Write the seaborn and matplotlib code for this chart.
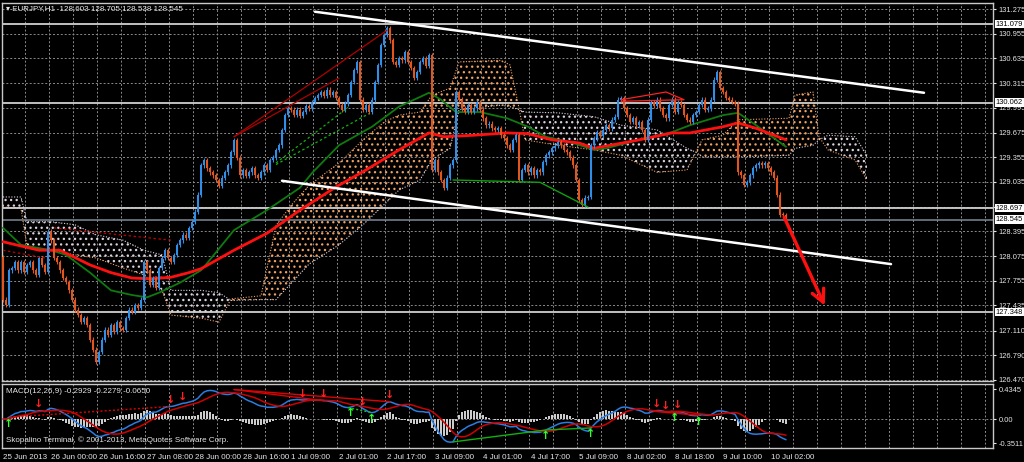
import numpy as np
import pandas as pd
import matplotlib.pyplot as plt
import seaborn as sns

# hourly closes, EURJPY H1, 25 Jun 2013 08:00 .. 10 Jul 2013
closes = [
    127.51, 127.44, 127.89, 127.92, 128.00, 127.89, 128.00, 127.87, 127.96, 128.00,
    127.89, 127.83, 128.05, 127.96, 127.87, 128.39, 128.28, 128.05, 128.00, 127.89,
    127.79, 127.74, 127.63, 127.51, 127.38, 127.31, 127.22, 127.27, 127.18, 126.99,
    126.86, 126.70, 126.83, 126.99, 127.12, 127.05, 127.18, 127.09, 127.22, 127.14,
    127.12, 127.27, 127.38, 127.35, 127.44, 127.40, 127.51, 128.00, 127.89, 127.70,
    127.79, 127.66, 127.92, 128.05, 128.15, 128.05, 128.00, 128.09, 128.22, 128.28,
    128.35, 128.31, 128.44, 128.52, 128.65, 128.87, 129.25, 129.32, 129.21, 129.16,
    129.12, 129.06, 128.98, 129.09, 129.16, 129.25, 129.42, 129.58, 129.35, 129.12,
    129.19, 129.11, 129.16, 129.21, 129.12, 129.09, 129.16, 129.25, 129.19, 129.32,
    129.35, 129.45, 129.51, 129.71, 129.90, 129.99, 129.97, 129.90, 129.97, 129.89,
    129.94, 130.02, 129.99, 130.07, 130.12, 130.16, 130.20, 130.15, 130.23, 130.16,
    130.20, 130.12, 130.03, 129.97, 130.05, 130.16, 130.33, 130.48, 130.59, 130.10,
    129.97, 130.03, 129.94, 130.10, 130.33, 130.55, 130.81, 130.94, 131.03, 130.87,
    130.59, 130.55, 130.64, 130.61, 130.72, 130.59, 130.51, 130.38, 130.46, 130.59,
    130.64, 130.54, 130.68, 129.19, 129.32, 129.16, 129.06, 128.96, 129.09, 129.25,
    129.32, 130.20, 130.10, 129.99, 129.94, 130.03, 129.94, 129.99, 130.07, 129.97,
    129.86, 129.77, 129.79, 129.73, 129.71, 129.73, 129.64, 129.60, 129.51, 129.45,
    129.58, 129.64, 129.06, 129.19, 129.25, 129.16, 129.21, 129.12, 129.19, 129.16,
    129.29, 129.38, 129.42, 129.47, 129.50, 129.55, 129.51, 129.45, 129.42, 129.35,
    129.25, 129.06, 128.80, 128.74, 128.83, 128.84, 129.51, 129.60, 129.68, 129.63,
    129.71, 129.77, 129.73, 129.84, 129.88, 130.10, 130.12, 129.99, 129.90, 129.81,
    129.86, 129.77, 129.81, 129.71, 129.58, 129.84, 130.07, 130.02, 130.10, 129.99,
    129.90, 129.86, 130.03, 130.10, 129.94, 130.06, 130.03, 129.90, 129.84, 129.81,
    129.90, 129.94, 130.03, 130.10, 129.97, 129.99, 130.10, 130.36, 130.46, 130.25,
    130.20, 130.12, 130.10, 130.07, 130.05, 129.16, 129.12, 129.00, 129.03, 129.12,
    129.21, 129.25, 129.28, 129.25, 129.28, 129.21, 129.16, 129.09, 128.87, 128.61,
    128.603, 128.545,
]
first_open = 128.06

# moving averages (bar index, price)
green_bars = [0, 6, 16, 21, 29, 36, 43, 48, 52, 59, 66, 68, 77, 88, 99, 103, 112, 123,
              132, 142, 146, 151, 159, 168, 175, 181, 190, 197, 201, 212, 223, 229, 240, 245, 251, 261]
green_ma = [128.44, 128.22, 128.15, 128.09, 127.86, 127.63, 127.57, 127.54, 127.60, 127.73,
            127.89, 127.98, 128.41, 128.67, 128.96, 129.15, 129.51, 129.75, 130.01, 130.19,
            130.10, 129.94, 129.94, 129.86, 129.75, 129.62, 129.54, 129.45, 129.47, 129.58,
            129.68, 129.77, 129.90, 129.93, 129.77, 129.49]
red_bars = [0, 12, 19, 29, 36, 43, 49, 56, 62, 66, 77, 88, 99, 111, 121, 132, 142, 147,
            157, 168, 175, 183, 192, 197, 201, 212, 223, 229, 240, 245, 251, 261]
red_ma = [128.26, 128.15, 128.15, 127.96, 127.86, 127.79, 127.78, 127.80, 127.86, 127.91,
          128.15, 128.37, 128.67, 128.97, 129.19, 129.45, 129.67, 129.62, 129.64, 129.67,
          129.66, 129.58, 129.54, 129.47, 129.50, 129.58, 129.67, 129.67, 129.75, 129.80,
          129.73, 129.58]

# ichimoku cloud spans (shifted 26 bars ahead)
cloud_bars = [0, 6, 8, 16, 24, 31, 40, 47, 53, 56, 66, 72, 76, 86, 91, 96, 102, 112, 120,
              127, 132, 139, 143, 149, 152, 166, 169, 172, 174, 185, 197, 206, 218, 228, 231,
              233, 240, 245, 262, 264, 270, 272, 275, 284, 288]
span_a = [128.71, 128.69, 128.20, 128.15, 128.09, 128.05, 127.92, 127.83, 127.63, 127.31,
          127.27, 127.22, 127.52, 127.56, 128.47, 128.73, 128.99, 129.28, 129.58, 129.81,
          129.90, 129.94, 130.16, 130.25, 130.59, 130.61, 130.55, 129.99, 129.58, 129.51,
          129.45, 129.38, 129.16, 129.19, 129.42, 129.58, 129.64, 129.84, 129.86, 130.16,
          130.20, 129.62, 129.45, 129.32, 129.06]
span_b = [128.84, 128.84, 128.52, 128.52, 128.48, 128.35, 128.28, 128.15, 128.09, 127.63,
          127.63, 127.60, 127.50, 127.51, 127.51, 127.72, 127.97, 128.22, 128.48, 128.74,
          128.93, 129.06, 129.32, 129.47, 129.97, 130.03, 130.01, 129.97, 129.94, 129.93,
          129.88, 129.77, 129.71, 129.47, 129.42, 129.36, 129.36, 129.36, 129.38, 129.47,
          129.51, 129.58, 129.64, 129.62, 129.38]

levels = [131.079, 130.062, 128.697, 127.348]
bid = 128.545

price_ticks = [131.275, 130.955, 130.635, 130.315, 129.995, 129.675, 129.355, 129.035,
               128.715, 128.395, 128.075, 127.755, 127.435, 127.110, 126.790, 126.470]
time_labels = ['25 Jun 2013', '26 Jun 00:00', '26 Jun 16:00', '27 Jun 08:00', '28 Jun 00:00',
               '28 Jun 16:00', '1 Jul 09:00', '2 Jul 01:00', '2 Jul 17:00', '3 Jul 09:00',
               '4 Jul 01:00', '4 Jul 17:00', '5 Jul 09:00', '8 Jul 02:00', '8 Jul 18:00',
               '9 Jul 10:00', '10 Jul 02:00']

# ---- data frame
df = pd.DataFrame({'close': closes})
df['open'] = df['close'].shift(1).fillna(first_open)
df['bar'] = np.arange(len(df))
df['top'] = df[['open', 'close']].max(axis=1)
df['bot'] = df[['open', 'close']].min(axis=1)
df['up'] = df['close'] >= df['open']

ema12 = df['close'].ewm(span=12, adjust=False).mean()
ema26 = df['close'].ewm(span=26, adjust=False).mean()
df['macd'] = ema12 - ema26
df['signal'] = df['macd'].rolling(9, min_periods=1).mean()
df['osma'] = df['macd'] - df['signal']

# ---- style
sns.set_style('dark', {'axes.facecolor': 'black', 'figure.facecolor': 'black'})
plt.rcParams['font.family'] = ['Liberation Sans', 'DejaVu Sans']
plt.rcParams['hatch.linewidth'] = 0.9

BULL = '#2f8fe8'
BEAR = '#e2561e'
GRID = '#8a8a8a'
TXT = '#e6e6e6'
FS = 5.4

fig = plt.figure(figsize=(10.24, 4.62), dpi=100, facecolor='black')
ax = fig.add_axes([2 / 1024, 81 / 462, 991 / 1024, 378 / 462])
ax2 = fig.add_axes([2 / 1024, 14 / 462, 991 / 1024, 64 / 462], sharex=ax)

xmin, xmax = -1 / 3, -1 / 3 + 991 / 3

for a in (ax, ax2):
    a.set_facecolor('black')
    for s in a.spines.values():
        s.set_color('#c8c8c8')
        s.set_linewidth(1)
    for b in range(0, 336, 8):
        a.axvline(b - 0.6, color=GRID, lw=0.7, ls=(0, (2, 2)), zorder=0)

# ---- main panel
for p in price_ticks:
    ax.axhline(p, color=GRID, lw=0.7, ls=(0, (2, 2)), zorder=0)

cb = np.array(cloud_bars)
sa = np.array(span_a)
sb = np.array(span_b)
ax.fill_between(cb, sa, sb, where=sa >= sb, interpolate=True, facecolor='none',
                edgecolor='#f0a060', hatch='...', linewidth=0, zorder=1)
ax.fill_between(cb, sa, sb, where=sa < sb, interpolate=True, facecolor='none',
                edgecolor='#ddd0dd', hatch='...', linewidth=0, zorder=1)
ax.plot(cb, sa, color='#f0a060', lw=0.8, ls=(0, (1, 1.5)), zorder=1)
ax.plot(cb, sb, color='#ddd0dd', lw=0.8, ls=(0, (1, 1.5)), zorder=1)

sns.lineplot(x=green_bars, y=green_ma, ax=ax, color='#0f7a0f', lw=1.3, zorder=3)
sns.lineplot(x=red_bars, y=red_ma, ax=ax, color='#ff1010', lw=2, zorder=3)

# candles
colors = np.where(df['up'], BULL, BEAR)
ax.vlines(df['bar'], df['bot'] - 0.03, df['top'] + 0.03, colors=colors, lw=0.8, zorder=4)
ax.bar(df['bar'], (df['top'] - df['bot']).clip(lower=0.012), bottom=df['bot'],
       width=0.75, color=colors, linewidth=0, zorder=4)

# horizontal levels
for lv in levels:
    ax.axhline(lv, color='#d0d0d0', lw=1.3, zorder=2)
ax.axhline(bid, color='#7d8a99', lw=1.1, zorder=2)

# channel and trend lines
ax.plot([104, 307], [131.24, 130.19], color='white', lw=1.8, zorder=5)
ax.plot([93, 296], [129.05, 127.97], color='white', lw=1.8, zorder=5)
ax.plot([77, 128], [129.62, 131.00], color='#b00000', lw=0.9, zorder=5)
ax.plot([77, 112], [129.62, 130.38], color='#b00000', lw=0.9, zorder=5)
ax.plot([206, 221, 227, 206], [130.10, 130.20, 130.10, 130.08], color='#ff2020', lw=0.9, zorder=5)
ax.plot([17, 56], [128.44, 128.28], color='#c00000', lw=0.9, ls=(0, (2, 2)), zorder=5)
ax.plot([0, 14], [128.15, 128.05], color='#c00000', lw=0.9, ls=(0, (2, 2)), zorder=5)
ax.plot([91, 115], [129.28, 130.00], color='#10b010', lw=0.9, ls=(0, (2, 2)), zorder=5)
ax.plot([91, 122], [129.26, 129.92], color='#10b010', lw=0.9, ls=(0, (2, 2)), zorder=5)
ax.plot([150, 179, 195], [129.06, 129.03, 128.71], color='#10a010', lw=1, zorder=5)
ax.annotate('', xy=(274.3, 127.40), xytext=(260, 128.61),
            arrowprops=dict(arrowstyle='->,head_length=0.9,head_width=0.45', color='#ff1010', lw=2.4),
            zorder=6)

ax.set_xlim(xmin, xmax)
ax.set_ylim(126.456, 131.353)
ax.yaxis.tick_right()
ax.set_yticks(price_ticks)
ax.set_yticklabels(['' if p == 128.715 else f'{p:.3f}' for p in price_ticks])
ax.tick_params(axis='y', colors=TXT, labelsize=FS, length=2.5, width=0.8, pad=1.5)
ax.tick_params(axis='x', bottom=False, labelbottom=False)
ax.set_xlabel('')
ax.set_ylabel('')

for lv in levels + [bid]:
    ax.annotate(f'{lv:.3f}', xy=(1.0, lv), xycoords=('axes fraction', 'data'),
                xytext=(2.0, 0), textcoords='offset points', ha='left', va='center',
                fontsize=FS, color='black', annotation_clip=False, zorder=10,
                bbox=dict(boxstyle='square,pad=0.1', fc='white', ec='none'))

fig.text(6 / 1024, 1 - 9 / 462, '\u25be EURJPY,H1  128.603 128.705 128.538 128.545',
         color=TXT, fontsize=FS + 0.4, va='center', ha='left')

# ---- MACD panel
ax2.axhline(0, color=GRID, lw=0.7, ls=(0, (2, 2)), zorder=0)
ax2.bar(df['bar'], df['osma'], width=0.6, color='#cccccc', linewidth=0, zorder=2)
sns.lineplot(x=df['bar'], y=df['macd'], ax=ax2, color='#2a7de1', lw=1.1, zorder=3)
sns.lineplot(x=df['bar'], y=df['signal'], ax=ax2, color='#d00000', lw=1.1, zorder=3)

m = df['macd']
red_arrows = [12, 56, 60, 100, 107, 120, 129, 218, 221, 225]
green_arrows = [2, 116, 123, 181, 196, 224, 232]
ax2.plot([2, 56], [m[2], m[56]], color='#e00000', lw=1, ls=(0, (1.5, 1.5)), zorder=4)
ax2.plot([77, 129], [m[77] + 0.05, m[129]], color='#e00000', lw=1, zorder=4)
ax2.plot([77, 107], [m[77] + 0.05, m[107]], color='#e00000', lw=1, zorder=4)
ax2.plot([115, 123], [m[115], m[123]], color='#10c010', lw=1, ls=(0, (1.5, 1.5)), zorder=4)
ax2.plot([150, 181, 196], [m[150], m[181], m[196]], color='#10b010', lw=1, zorder=4)
ax2.plot([217, 232], [m[217], m[232]], color='#e00000', lw=1, zorder=4)
for b in red_arrows:
    ax2.text(b, m[b] + 0.02, '\u2193', color='#ff2020', fontsize=8, fontweight='bold',
             family='DejaVu Sans', ha='center', va='bottom', zorder=5)
for b in green_arrows:
    ax2.text(b, m[b] - 0.02, '\u2191', color='#30ff30', fontsize=8, fontweight='bold',
             family='DejaVu Sans', ha='center', va='top', zorder=5)

ax2.set_xlim(xmin, xmax)
ax2.set_ylim(-0.42, 0.507)
ax2.yaxis.tick_right()
ax2.set_yticks([0.4345, 0.0, -0.3511])
ax2.set_yticklabels(['0.4345', '0.00', '-0.3511'])
ax2.tick_params(axis='y', colors=TXT, labelsize=FS, length=2.5, width=0.8, pad=1.5)
ax2.set_xticks(range(0, 16 * len(time_labels), 16))
ax2.set_xticklabels(time_labels)
ax2.tick_params(axis='x', colors=TXT, labelsize=FS + 0.4, length=3, width=0.8, pad=1)
for t in ax2.get_xticklabels():
    t.set_ha('left')
ax2.set_xlabel('')
ax2.set_ylabel('')

ax2.text(0.004, 0.88, 'MACD(12,26,9) -0.2929 -0.2279 -0.0650', transform=ax2.transAxes,
         color=TXT, fontsize=FS + 0.4, va='center', ha='left')
ax2.text(0.004, 0.12, 'Skopalino Terminal, \u00a9 2001-2013, MetaQuotes Software Corp.',
         transform=ax2.transAxes, color=TXT, fontsize=FS + 0.4, va='center', ha='left')

fig.savefig('out.png', dpi=100, facecolor='black')
